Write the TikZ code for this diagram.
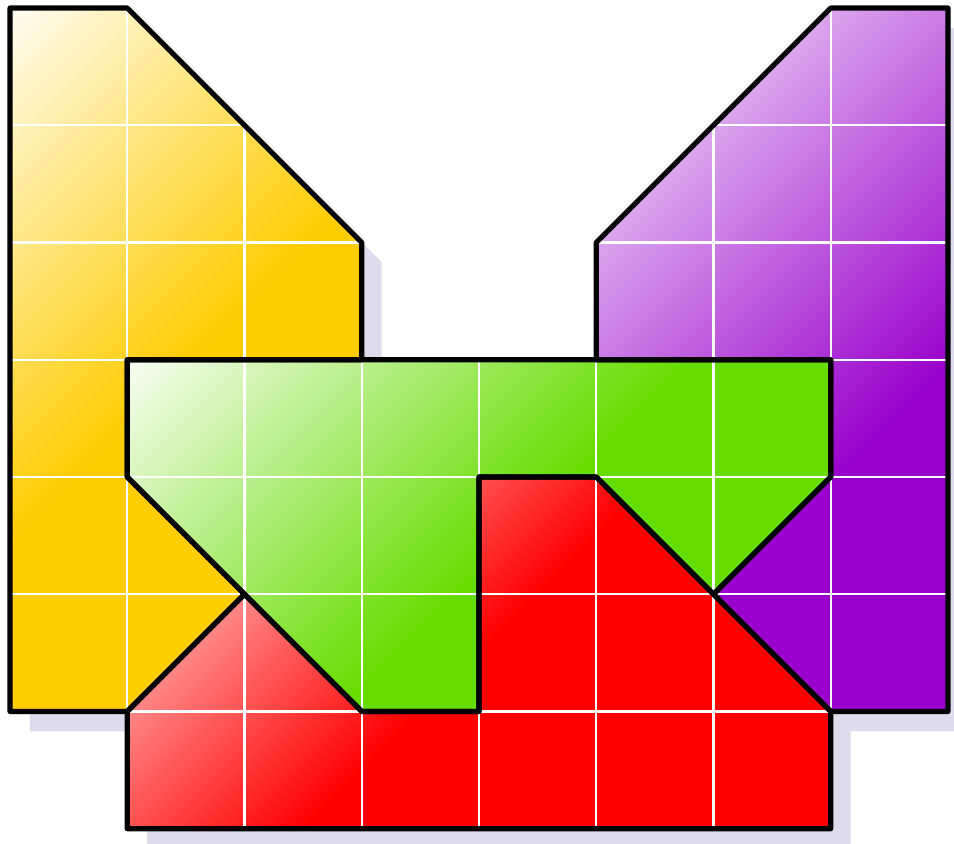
\documentclass[tikz,border=0pt]{standalone}
\definecolor{yfull}{HTML}{FFCC00}
\definecolor{pfull}{HTML}{9900CC}
\definecolor{gfull}{HTML}{66DD00}
\definecolor{rfull}{HTML}{FF0000}
\definecolor{shadowc}{RGB}{221,219,236}
\pgfdeclareverticalshading{yelsh}{100bp}{color(0bp)=(yfull); color(49.2bp)=(yfull); color(87.5bp)=(white); color(100bp)=(white)}
\pgfdeclareverticalshading{pursh}{100bp}{color(0bp)=(pfull); color(37.5bp)=(pfull); color(87.5bp)=(white); color(100bp)=(white)}
\pgfdeclareverticalshading{gresh}{100bp}{color(0bp)=(gfull); color(47.5bp)=(gfull); color(87.5bp)=(white); color(100bp)=(white)}
\pgfdeclareverticalshading{redsh}{100bp}{color(0bp)=(rfull); color(50bp)=(rfull); color(87.5bp)=(white); color(100bp)=(white)}
\begin{document}
\begin{tikzpicture}[x=1cm,y=-1cm,
  outline/.style={draw=black,line width=1.25pt,line join=round},
  gridline/.style={draw=white,line width=0.5pt},
  shadowfill/.style={fill=shadowc}]
\useasboundingbox (-0.0853,-0.0682) rectangle (8.0512,7.1279);
% shadows
\begin{scope}[shift={(0.17,0.17)}]
  \fill[shadowfill] (0,0) -- (1,0) -- (3,2) -- (3,3) -- (1,3) -- (1,4) -- (2,5) -- (1,6) -- (0,6) -- cycle;
  \fill[shadowfill] (5,2) -- (7,0) -- (8,0) -- (8,6) -- (7,6) -- (6,5) -- (7,4) -- (7,3) -- (5,3) -- cycle;
  \fill[shadowfill] (1,3) -- (7,3) -- (7,4) -- (6,5) -- (5,4) -- (4,4) -- (4,6) -- (3,6) -- (1,4) -- cycle;
  \fill[shadowfill] (4,4) -- (5,4) -- (7,6) -- (7,7) -- (1,7) -- (1,6) -- (2,5) -- (3,6) -- (4,6) -- cycle;
\end{scope}
% yellow
\shade[shading=yelsh,shading angle=45] (0,0) -- (1,0) -- (3,2) -- (3,3) -- (1,3) -- (1,4) -- (2,5) -- (1,6) -- (0,6) -- cycle;
\begin{scope}
  \clip (0,0) -- (1,0) -- (3,2) -- (3,3) -- (1,3) -- (1,4) -- (2,5) -- (1,6) -- (0,6) -- cycle;
  \draw[gridline] (0,0) grid (8,7);
\end{scope}
% purple
\shade[shading=pursh,shading angle=45] (5,2) -- (7,0) -- (8,0) -- (8,6) -- (7,6) -- (6,5) -- (7,4) -- (7,3) -- (5,3) -- cycle;
\begin{scope}
  \clip (5,2) -- (7,0) -- (8,0) -- (8,6) -- (7,6) -- (6,5) -- (7,4) -- (7,3) -- (5,3) -- cycle;
  \draw[gridline] (0,0) grid (8,7);
\end{scope}
% green
\shade[shading=gresh,shading angle=45] (1,3) -- (7,3) -- (7,4) -- (6,5) -- (5,4) -- (4,4) -- (4,6) -- (3,6) -- (1,4) -- cycle;
\begin{scope}
  \clip (1,3) -- (7,3) -- (7,4) -- (6,5) -- (5,4) -- (4,4) -- (4,6) -- (3,6) -- (1,4) -- cycle;
  \draw[gridline] (0,0) grid (8,7);
\end{scope}
% red
\shade[shading=redsh,shading angle=45] (4,4) -- (5,4) -- (7,6) -- (7,7) -- (1,7) -- (1,6) -- (2,5) -- (3,6) -- (4,6) -- cycle;
\begin{scope}
  \clip (4,4) -- (5,4) -- (7,6) -- (7,7) -- (1,7) -- (1,6) -- (2,5) -- (3,6) -- (4,6) -- cycle;
  \draw[gridline] (0,0) grid (8,7);
\end{scope}
% outlines
\draw[outline] (0,0) -- (1,0) -- (3,2) -- (3,3) -- (1,3) -- (1,4) -- (2,5) -- (1,6) -- (0,6) -- cycle;
\draw[outline] (5,2) -- (7,0) -- (8,0) -- (8,6) -- (7,6) -- (6,5) -- (7,4) -- (7,3) -- (5,3) -- cycle;
\draw[outline] (1,3) -- (7,3) -- (7,4) -- (6,5) -- (5,4) -- (4,4) -- (4,6) -- (3,6) -- (1,4) -- cycle;
\draw[outline] (4,4) -- (5,4) -- (7,6) -- (7,7) -- (1,7) -- (1,6) -- (2,5) -- (3,6) -- (4,6) -- cycle;
\end{tikzpicture}
\end{document}
